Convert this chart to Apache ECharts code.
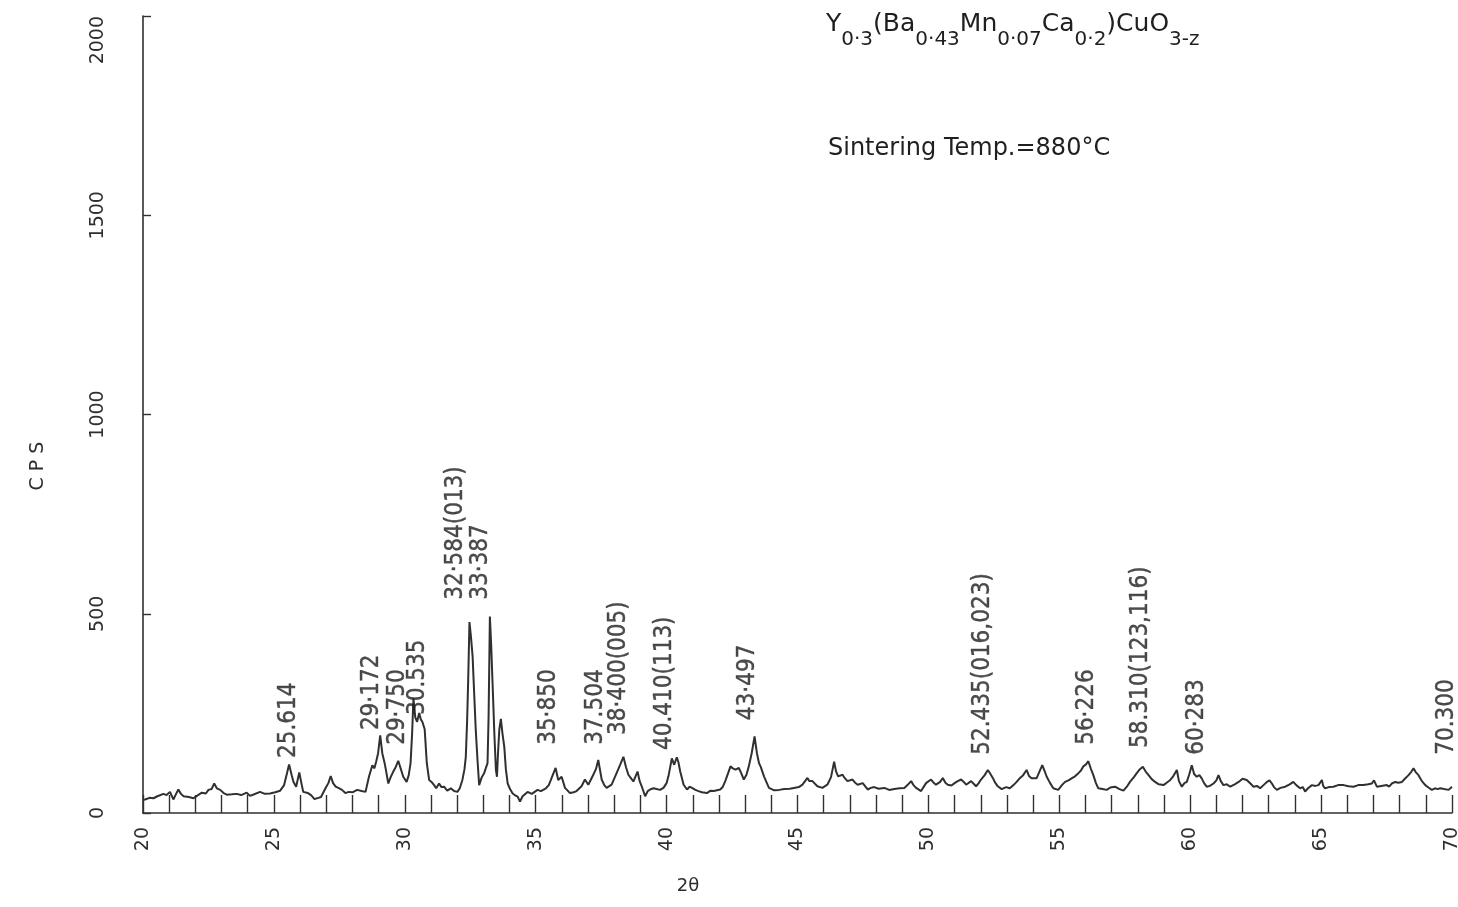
<!DOCTYPE html>
<html>
<head>
<meta charset="utf-8">
<title>XRD pattern</title>
<script src="https://cdn.jsdelivr.net/npm/echarts@6/dist/echarts.min.js"></script>
<style>
  html, body { margin: 0; padding: 0; background: #ffffff; }
  #chart { width: 1458px; height: 907px; }
</style>
</head>
<body>
<div id="chart"></div>
<script>
// Diffraction angle 2θ (degrees) and measured intensity (counts per second)
const twoTheta = [
  20.0, 20.08, 20.25, 20.4, 20.55, 20.78, 20.9, 21.03, 21.16, 21.25, 21.35, 21.45, 21.55, 21.75, 21.93,
  22.1, 22.25, 22.4, 22.5, 22.62, 22.72, 22.82, 22.95, 23.08, 23.2, 23.4, 23.58, 23.75, 23.96, 24.09,
  24.25, 24.47, 24.65, 24.85, 25.05, 25.24, 25.39, 25.5, 25.58, 25.68, 25.75, 25.85, 25.97, 26.05, 26.12,
  26.3, 26.42, 26.55, 26.7, 26.8, 26.97, 27.08, 27.17, 27.26, 27.36, 27.5, 27.6, 27.73, 27.86, 28.0,
  28.18, 28.35, 28.5, 28.63, 28.76, 28.84, 28.91, 28.98, 29.06, 29.14, 29.23, 29.3, 29.37, 29.46, 29.56,
  29.65, 29.75, 29.85, 29.94, 30.07, 30.15, 30.22, 30.28, 30.33, 30.4, 30.47, 30.55, 30.61, 30.67, 30.76,
  30.84, 30.93, 31.02, 31.12, 31.2, 31.31, 31.4, 31.5, 31.62, 31.76, 31.88, 32.01, 32.1, 32.2, 32.28,
  32.33, 32.38, 32.42, 32.47, 32.53, 32.59, 32.65, 32.71, 32.78, 32.84, 32.94, 33.03, 33.1, 33.16, 33.2,
  33.25, 33.3, 33.35, 33.42, 33.48, 33.52, 33.56, 33.61, 33.67, 33.73, 33.8, 33.86, 33.93, 34.02, 34.12,
  34.2, 34.31, 34.4, 34.5, 34.69, 34.85, 35.07, 35.2, 35.39, 35.5, 35.58, 35.68, 35.76, 35.86, 35.99,
  36.12, 36.31, 36.45, 36.56, 36.75, 36.88, 37.01, 37.2, 37.3, 37.39, 37.52, 37.62, 37.71, 37.9, 38.09,
  38.22, 38.35, 38.45, 38.54, 38.63, 38.73, 38.89, 38.97, 39.05, 39.18, 39.28, 39.37, 39.5, 39.62, 39.75,
  39.88, 40.0, 40.07, 40.2, 40.29, 40.39, 40.45, 40.52, 40.65, 40.78, 40.88, 40.97, 41.1, 41.22, 41.35,
  41.54, 41.68, 41.8, 42.05, 42.15, 42.24, 42.35, 42.44, 42.53, 42.63, 42.76, 42.85, 42.95, 43.05, 43.14,
  43.25, 43.36, 43.45, 43.53, 43.6, 43.72, 43.81, 43.91, 44.11, 44.3, 44.49, 44.7, 44.87, 45.05, 45.19,
  45.38, 45.45, 45.57, 45.76, 45.95, 46.14, 46.28, 46.4, 46.47, 46.55, 46.72, 46.8, 46.91, 47.1, 47.2,
  47.3, 47.49, 47.68, 47.8, 47.93, 48.1, 48.32, 48.5, 48.7, 48.9, 49.08, 49.2, 49.34, 49.43, 49.53,
  49.72, 49.91, 50.1, 50.2, 50.29, 50.45, 50.55, 50.65, 50.74, 50.88, 51.0, 51.12, 51.25, 51.35, 51.44,
  51.63, 51.72, 51.82, 51.92, 52.01, 52.15, 52.27, 52.37, 52.46, 52.55, 52.65, 52.8, 52.97, 53.11, 53.25,
  53.37, 53.5, 53.62, 53.75, 53.85, 53.94, 54.13, 54.25, 54.35, 54.45, 54.52, 54.65, 54.77, 54.96, 55.1,
  55.22, 55.35, 55.47, 55.6, 55.73, 55.82, 55.92, 56.02, 56.11, 56.2, 56.3, 56.4, 56.49, 56.65, 56.81,
  56.95, 57.13, 57.3, 57.45, 57.58, 57.7, 57.85, 57.96, 58.08, 58.19, 58.3, 58.41, 58.53, 58.66, 58.8,
  58.98, 59.1, 59.24, 59.35, 59.49, 59.57, 59.68, 59.78, 59.87, 59.96, 60.06, 60.15, 60.25, 60.35, 60.44,
  60.53, 60.63, 60.75, 60.89, 61.0, 61.08, 61.17, 61.27, 61.4, 61.53, 61.7, 61.85, 62.0, 62.16, 62.3,
  62.42, 62.55, 62.67, 62.8, 62.93, 63.03, 63.12, 63.2, 63.31, 63.45, 63.63, 63.8, 63.94, 64.05, 64.2,
  64.3, 64.39, 64.5, 64.65, 64.78, 64.9, 65.03, 65.08, 65.15, 65.3, 65.47, 65.65, 65.86, 66.05, 66.24,
  66.42, 66.62, 66.8, 66.94, 67.02, 67.13, 67.3, 67.51, 67.6, 67.7, 67.83, 67.95, 68.09, 68.2, 68.34,
  68.45, 68.53, 68.62, 68.72, 68.85, 68.98, 69.1, 69.23, 69.35, 69.45, 69.55, 69.7, 69.87, 70.0
];
const cps = [
  33, 34, 38, 37, 42, 48, 45, 53, 34, 46, 59, 48, 42, 40, 37,
  45, 51, 49, 58, 60, 74, 62, 58, 50, 46, 47, 48, 45, 51, 43,
  47, 53, 48, 49, 52, 56, 70, 100, 122, 95, 78, 66, 102, 75, 53,
  50, 45, 35, 38, 40, 62, 75, 93, 75, 66, 62, 58, 50, 53, 52,
  58, 55, 53, 91, 120, 112, 130, 150, 195, 150, 125, 100, 74, 90, 104,
  115, 131, 110, 91, 78, 95, 125, 200, 288, 240, 229, 251, 235, 229, 210,
  125, 83, 78, 70, 62, 74, 65, 66, 56, 62, 55, 53, 62, 83, 110,
  141, 230, 330, 479, 440, 393, 300, 209, 130, 70, 90, 100, 95, 125, 240,
  493, 420, 330, 200, 108, 91, 150, 209, 236, 200, 166, 110, 74, 60, 49,
  45, 41, 29, 42, 53, 48, 58, 55, 62, 70, 83, 100, 113, 83, 91,
  63, 50, 52, 55, 67, 84, 71, 96, 110, 133, 84, 70, 63, 71, 100,
  120, 141, 115, 96, 88, 79, 104, 80, 67, 42, 55, 59, 62, 60, 58,
  63, 75, 92, 137, 121, 140, 128, 104, 71, 59, 66, 63, 58, 55, 52,
  50, 56, 55, 59, 66, 80, 100, 117, 112, 109, 113, 100, 84, 96, 117,
  150, 192, 150, 125, 115, 92, 78, 63, 57, 58, 60, 61, 63, 65, 71,
  88, 80, 80, 67, 63, 71, 90, 129, 105, 92, 96, 88, 80, 84, 76,
  71, 75, 59, 63, 65, 61, 63, 58, 60, 62, 63, 70, 80, 70, 63,
  55, 75, 84, 76, 71, 78, 88, 76, 71, 69, 75, 80, 84, 78, 71,
  80, 74, 67, 75, 84, 95, 108, 98, 88, 76, 67, 60, 65, 62, 70,
  78, 88, 95, 108, 92, 87, 87, 105, 120, 103, 91, 75, 62, 58, 70,
  78, 82, 87, 92, 100, 106, 117, 122, 130, 112, 95, 75, 62, 60, 58,
  64, 66, 60, 56, 66, 78, 90, 100, 110, 116, 104, 95, 85, 78, 72,
  70, 76, 83, 92, 108, 80, 66, 75, 78, 96, 120, 98, 91, 95, 87,
  75, 66, 68, 74, 82, 95, 80, 70, 72, 66, 72, 78, 86, 83, 74,
  66, 68, 62, 70, 78, 82, 74, 65, 58, 63, 66, 72, 78, 70, 62,
  65, 54, 62, 70, 68, 70, 83, 68, 62, 65, 66, 70, 70, 67, 66,
  70, 70, 72, 74, 82, 66, 68, 70, 66, 74, 78, 76, 78, 86, 95,
  104, 112, 102, 95, 80, 70, 64, 58, 62, 60, 62, 60, 58, 66
];

// Peak annotations: text, 2θ of the label column, CPS where the text starts
const peakText = [
  '25.614', '29·172', '29·750', '30.535', '32·584(013)', '33·387', '35·850', '37.504',
  '38·400(005)', '40.410(113)', '43·497', '52.435(016,023)', '56·226', '58.310(123,116)', '60·283', '70.300'
];
const peakTheta = [25.58, 28.75, 29.74, 30.5, 31.96, 32.91, 35.51, 37.3, 38.18, 39.94, 43.11, 52.09, 56.06, 58.12, 60.26, 69.81];
const peakBase = [138, 208, 171, 246, 535, 535, 171, 171, 196, 158, 233, 146, 171, 163, 146, 146];

// Axis ranges and tick steps
const xRange = [20, 70];
const xStep = 5;
const yRange = [0, 2000];
const yStep = 500;

const lineColor = '#303030';
const inkColor = '#1f1f1f';
const labelFont = "'DejaVu Sans Condensed', 'Liberation Sans Narrow', 'DejaVu Sans', sans-serif";
const axisFont = "'DejaVu Sans', 'Open Sans', sans-serif";

const chart = echarts.init(document.getElementById('chart'), null, { renderer: 'canvas' });

const pattern = twoTheta.map((t, i) => [t, cps[i]]);
const annotations = peakText.map((txt, i) => ({ value: [peakTheta[i], peakBase[i]], name: txt }));

chart.setOption({
  animation: false,
  backgroundColor: '#ffffff',
  grid: { left: 143, right: 6, top: 16, bottom: 94, containLabel: false, outerBoundsMode: 'none' },
  xAxis: {
    type: 'value',
    min: xRange[0],
    max: xRange[1],
    interval: xStep,
    axisLine: { show: true, onZero: false, lineStyle: { color: lineColor, width: 1.6 } },
    axisTick: { show: true, inside: true, length: 18, lineStyle: { color: lineColor, width: 1.4 } },
    minorTick: { show: true, splitNumber: 5, length: 18, lineStyle: { color: lineColor, width: 1.4 } },
    splitLine: { show: false },
    minorSplitLine: { show: false },
    axisLabel: {
      rotate: 90,
      margin: 14,
      fontSize: 19,
      fontFamily: axisFont,
      color: '#2e2e2e',
      formatter: (v) => String(v)
    }
  },
  yAxis: {
    type: 'value',
    min: yRange[0],
    max: yRange[1],
    interval: yStep,
    axisLine: { show: true, lineStyle: { color: lineColor, width: 1.6 } },
    axisTick: { show: true, inside: true, length: 8, lineStyle: { color: lineColor, width: 1.4 } },
    splitLine: { show: false },
    axisLabel: {
      rotate: 90,
      margin: 35,
      fontSize: 19,
      fontFamily: axisFont,
      color: '#2e2e2e',
      alignMaxLabel: 'right',
      formatter: (v) => String(v)
    }
  },
  graphic: [
    {
      type: 'text',
      left: 826,
      top: 12,
      style: {
        text: '{b|Y}{s|0·3}{b|(Ba}{s|0·43}{b|Mn}{s|0·07}{b|Ca}{s|0·2}{b|)CuO}{s|3-z}',
        fill: inkColor,
        rich: {
          b: { fontSize: 25, fontFamily: axisFont, fill: inkColor, verticalAlign: 'top' },
          s: { fontSize: 20, fontFamily: axisFont, fill: inkColor, verticalAlign: 'top', padding: [18, 0, 0, 0] }
        }
      }
    },
    {
      type: 'text',
      left: 828,
      top: 137,
      style: {
        text: 'Sintering Temp.=880°C',
        fontSize: 24,
        fontFamily: axisFont,
        fill: inkColor
      }
    },
    {
      type: 'text',
      x: 38,
      y: 466,
      rotation: Math.PI / 2,
      style: {
        text: 'C P S',
        fontSize: 19,
        fontFamily: axisFont,
        fill: '#2e2e2e',
        align: 'center',
        verticalAlign: 'middle'
      }
    },
    {
      type: 'text',
      x: 688,
      y: 886,
      style: {
        text: '2θ',
        fontSize: 18,
        fontFamily: axisFont,
        fill: '#2e2e2e',
        align: 'center',
        verticalAlign: 'middle'
      }
    }
  ],
  series: [
    {
      type: 'line',
      data: pattern,
      symbol: 'none',
      smooth: false,
      lineStyle: { color: lineColor, width: 2 },
      z: 3
    },
    {
      type: 'scatter',
      data: annotations,
      symbolSize: 1,
      itemStyle: { color: 'rgba(0,0,0,0)' },
      silent: true,
      label: {
        show: true,
        position: 'inside',
        rotate: 90,
        align: 'left',
        verticalAlign: 'middle',
        formatter: (p) => p.name,
        fontSize: 24,
        fontFamily: labelFont,
        color: inkColor,
        textBorderColor: inkColor,
        textBorderWidth: 0.4
      },
      z: 4
    }
  ]
});
</script>
</body>
</html>
